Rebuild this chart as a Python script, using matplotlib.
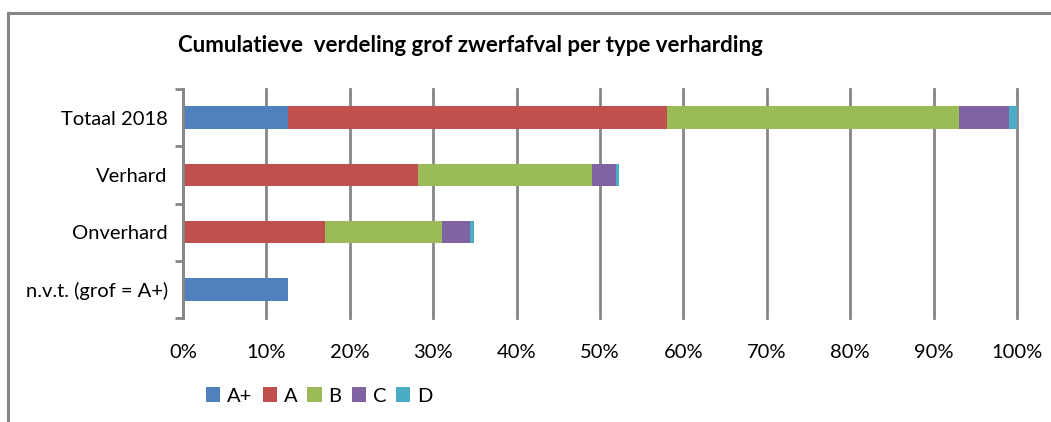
import numpy as np
import matplotlib.pyplot as plt

# categories (top to bottom) and segment shares in %
categories = ["Totaal 2018", "Verhard", "Onverhard", "n.v.t. (grof = A+)"]
series = ["A+", "A", "B", "C", "D"]
a_plus = [12.6, 0.0, 0.0, 12.6]
a = [45.4, 28.2, 17.0, 0.0]
b = [35.0, 20.9, 14.0, 0.0]
c = [6.1, 2.8, 3.4, 0.0]
d = [0.9, 0.4, 0.5, 0.0]
xticks = [0, 10, 20, 30, 40, 50, 60, 70, 80, 90, 100]

colors = ["#4F81BD", "#C0504D", "#9BBB59", "#8064A2", "#4BACC6"]
grid_col = "#868686"

plt.rcParams['font.family'] = ['Lato', 'DejaVu Sans']

fig = plt.figure(figsize=(10.51, 4.22), dpi=100)
ax = fig.add_axes([183 / 1051, 1 - 318 / 422, (1017 - 183) / 1051, (318 - 89) / 422])

# outer chart border
fig.add_artist(plt.Line2D([8 / 1051, 8 / 1051], [0, 1 - 13 / 422], transform=fig.transFigure,
                          color=grid_col, lw=2.2))
fig.add_artist(plt.Line2D([8 / 1051, 1], [1 - 13 / 422, 1 - 13 / 422], transform=fig.transFigure,
                          color=grid_col, lw=2.2))

y = np.arange(len(categories))
left = np.zeros(len(categories))
for name, vals, col in zip(series, [a_plus, a, b, c, d], colors):
    ax.barh(y, vals, left=left, height=0.39, color=col, label=name, zorder=3)
    left += np.array(vals)

ax.set_xlim(0, 100)
ax.set_ylim(len(categories) - 0.5, -0.5)
ax.set_xticks(xticks)
ax.set_xticklabels([f"{t}%" for t in xticks], fontsize=14.5)
ax.tick_params(axis='x', length=0, pad=19)
ax.set_yticks(y)
ax.set_yticklabels(categories, fontsize=14.5)
ax.tick_params(axis='y', which='major', length=0, pad=11)
ax.set_yticks(np.arange(-0.5, len(categories), 1), minor=True)
ax.tick_params(axis='y', which='minor', length=6, width=2, color=grid_col)

ax.grid(axis='x', color=grid_col, lw=2, zorder=0)
for gl in ax.get_xgridlines():
    gl.set_clip_on(False)
for s in ['top', 'right', 'bottom']:
    ax.spines[s].set_visible(False)
ax.spines['left'].set_color(grid_col)
ax.spines['left'].set_linewidth(2)
ax.spines['left'].set_zorder(4)

fig.text(178 / 1051, 1 - 46 / 422, "Cumulatieve  verdeling grof zwerfafval per type verharding",
         fontsize=16, fontweight='bold', va='center', ha='left')

fig.legend(loc='center left', bbox_to_anchor=(188 / 1051, 1 - 396 / 422), ncol=5, frameon=False,
           fontsize=14.5, handlelength=0.7, handleheight=0.7, handletextpad=0.35, columnspacing=0.5)

fig.savefig("out.png", dpi=100)
